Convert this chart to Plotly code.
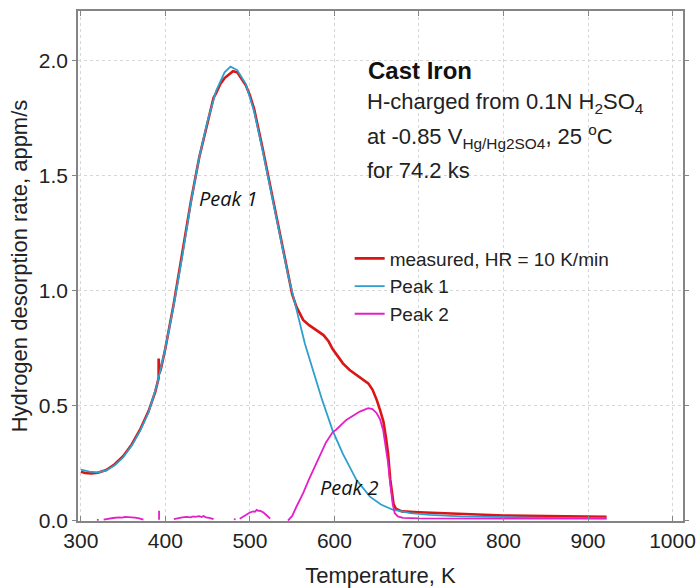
import plotly.graph_objects as go

# Measured thermal desorption spectrum (K, appm/s)
meas_T = [300, 305, 312, 320, 330, 340, 350, 360, 370, 380, 388, 391, 392, 392, 393, 395,
          400, 410, 420, 430, 440, 450, 455, 457, 460, 465, 470, 475, 480, 485, 490, 495,
          500, 505, 515, 525, 535, 545, 550, 555, 563, 570, 575, 580, 587, 593, 598, 605,
          610, 618, 626, 633, 640, 645, 650, 654, 658, 661, 663.5, 666, 668, 670, 673, 680,
          700, 750, 800, 850, 922]
meas_R = [0.212, 0.207, 0.205, 0.208, 0.220, 0.245, 0.280, 0.330, 0.395, 0.475, 0.560, 0.605, 0.620, 0.705, 0.640, 0.665,
          0.750, 0.945, 1.160, 1.385, 1.580, 1.730, 1.815, 1.840, 1.860, 1.900, 1.925, 1.940, 1.955, 1.950, 1.925, 1.895,
          1.850, 1.790, 1.620, 1.440, 1.260, 1.070, 0.985, 0.930, 0.873, 0.850, 0.837, 0.825, 0.807, 0.780, 0.745, 0.710,
          0.684, 0.655, 0.633, 0.615, 0.597, 0.570, 0.525, 0.480, 0.430, 0.360, 0.290, 0.180, 0.110, 0.070, 0.050, 0.040,
          0.036, 0.028, 0.022, 0.019, 0.016]

# Fitted component: Peak 1
p1_T = [300, 310, 320, 330, 340, 350, 360, 370, 380, 390, 400, 410, 420, 430, 440, 450, 460, 470,
        477, 485, 495, 505, 515, 525, 535, 545, 555, 565, 575, 585, 598, 610, 626, 642, 655, 669,
        690, 713, 750, 800, 850, 922]
p1_R = [0.222, 0.213, 0.210, 0.218, 0.240, 0.275, 0.325, 0.390, 0.470, 0.590, 0.750, 0.940, 1.150, 1.380, 1.580, 1.740, 1.870, 1.950,
        1.975, 1.960, 1.900, 1.780, 1.610, 1.430, 1.260, 1.070, 0.920, 0.770, 0.650, 0.530, 0.390, 0.290, 0.177, 0.104, 0.070, 0.047,
        0.032, 0.025, 0.018, 0.014, 0.012, 0.010]

# Fitted component: Peak 2 (residual, with the low-temperature scatter segments)
p2_T = [319, 321, None,
        327, 332, 338, 345, 349, 352, 355, 358, 361, 364, 369, 374, None,
        392.5, 392.5, None,
        410, 415, 420, 425, 430, 433, 435, 440, 443, 445, 448, 452, 457, None,
        481, 483, None,
        488, 492, 496, 500, 504, 506, 508, 510, 512, 516, 520, 524, None,
        545, 550, 555, 563, 570, 579, 590, 598, 602, 614, 630, 640, 645, 650, 654, 657.6,
        660, 663.5, 666, 667.4, 669, 671.4, 675, 681, 700, 800, 922]
p2_R = [0.003, 0.003, None,
        0.004, 0.008, 0.011, 0.014, 0.013, 0.016, 0.015, 0.017, 0.015, 0.013, 0.009, 0.004, None,
        0.003, 0.043, None,
        0.006, 0.011, 0.014, 0.016, 0.014, 0.018, 0.016, 0.019, 0.015, 0.020, 0.014, 0.012, 0.006, None,
        0.005, 0.006, None,
        0.008, 0.018, 0.028, 0.035, 0.040, 0.038, 0.046, 0.042, 0.043, 0.035, 0.022, 0.008, None,
        0.000, 0.020, 0.060, 0.119, 0.180, 0.250, 0.340, 0.385, 0.395, 0.438, 0.474, 0.489, 0.485, 0.467, 0.440, 0.394,
        0.340, 0.250, 0.160, 0.110, 0.070, 0.032, 0.018, 0.012, 0.009, 0.008, 0.008]

x_ticks = [300, 400, 500, 600, 700, 800, 900, 1000]
y_ticks = [0.0, 0.5, 1.0, 1.5, 2.0]

FONT = "Liberation Sans"
TXT = "#222"

fig = go.Figure()
fig.add_trace(go.Scatter(x=meas_T, y=meas_R, mode="lines", name="measured, HR = 10 K/min",
                         line=dict(color="#dc1414", width=2.6)))
fig.add_trace(go.Scatter(x=p1_T, y=p1_R, mode="lines", name="Peak 1",
                         line=dict(color="#2c9fce", width=1.8)))
fig.add_trace(go.Scatter(x=p2_T, y=p2_R, mode="lines", name="Peak 2", connectgaps=False,
                         line=dict(color="#e41fc8", width=1.8)))

axis_common = dict(showline=True, linecolor="#858585", linewidth=1.5, mirror="ticks",
                   showgrid=True, gridcolor="#d6d6d6", gridwidth=0.8, griddash="dot",
                   zeroline=False, tickcolor="#858585", tickwidth=1.2, automargin=False,
                   tickfont=dict(family=FONT, size=21, color=TXT))

fig.update_xaxes(range=[296.6, 1012.4], tickvals=x_ticks, ticktext=[str(v) for v in x_ticks],
                 ticks="inside", ticklen=5,
                 title=dict(text="Temperature, K", font=dict(family=FONT, size=22, color=TXT), standoff=18),
                 **axis_common)
fig.update_yaxes(range=[-0.002, 2.217], tickvals=y_ticks, ticktext=[f"{v:.1f}" for v in y_ticks],
                 ticks="outside", ticklen=4,
                 title=dict(text="Hydrogen desorption rate, appm/s", font=dict(family=FONT, size=22, color=TXT), standoff=5),
                 **axis_common)

ann_font = dict(family=FONT, size=22, color=TXT)
fig.add_annotation(x=637, y=1.957, text="<b>Cast Iron</b>", showarrow=False, xanchor="left", yanchor="middle",
                   font=dict(family=FONT, size=24, color="#111"))
fig.add_annotation(x=636, y=1.818, text="H-charged from 0.1N H<sub>2</sub>SO<sub>4</sub>", showarrow=False,
                   xanchor="left", yanchor="middle", font=ann_font)
fig.add_annotation(x=636, y=1.670, text="at -0.85 V<sub>Hg/Hg2SO4</sub>, 25 <sup>o</sup>C", showarrow=False,
                   xanchor="left", yanchor="middle", font=ann_font)
fig.add_annotation(x=636, y=1.522, text="for 74.2 ks", showarrow=False,
                   xanchor="left", yanchor="middle", font=ann_font)

peak_font = dict(family="Open Sans", size=20, color="#111", style="italic")
fig.add_annotation(x=475, y=1.403, text="Peak 1", showarrow=False, font=peak_font)
fig.add_annotation(x=618, y=0.144, text="Peak 2", showarrow=False, font=peak_font)

fig.update_layout(
    width=699, height=588,
    margin=dict(l=78, r=16, t=11, b=67),
    paper_bgcolor="white", plot_bgcolor="white",
    showlegend=True,
    legend=dict(x=0.449, y=0.552, xanchor="left", yanchor="top", bgcolor="rgba(0,0,0,0)",
                font=dict(family=FONT, size=19, color=TXT), tracegroupgap=0),
)

fig.write_html("out.html")
